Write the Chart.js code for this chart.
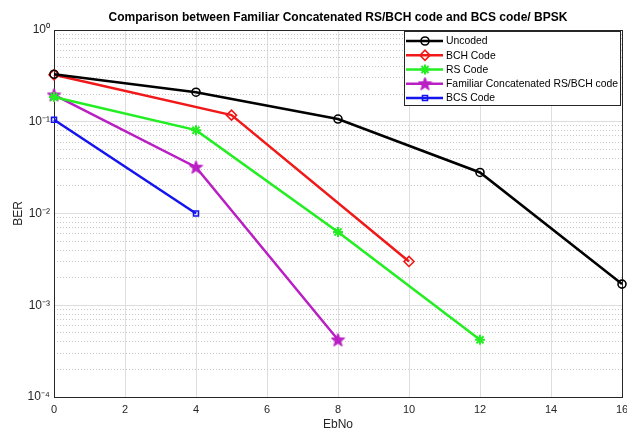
<!DOCTYPE html>
<html>
<head>
<meta charset="utf-8">
<script src="https://cdn.jsdelivr.net/npm/chart.js@4.4.1/dist/chart.umd.min.js"></script>
<style>
html,body{margin:0;padding:0;background:#fff;overflow:hidden;}
#wrap{width:627px;height:434px;position:relative;}
canvas{display:block;}
</style>
</head>
<body>
<div id="wrap"><canvas id="c" width="627" height="434"></canvas></div>
<script>
// ---- data ----
const seriesNames = ["Uncoded", "BCH Code", "RS Code", "Familiar Concatenated RS/BCH code", "BCS Code"];
const uncodedX = [0, 4, 8, 12, 16];
const uncodedY = [0.33, 0.21, 0.107, 0.028, 0.0017];
const bchX = [0, 5, 10];
const bchY = [0.325, 0.118, 0.003];
const rsX = [0, 4, 8, 12];
const rsY = [0.186, 0.081, 0.0063, 0.00042];
const famX = [0, 4, 8];
const famY = [0.196, 0.032, 0.00042];
const bcsX = [0, 4];
const bcsY = [0.105, 0.01];
const xTicks = [0, 2, 4, 6, 8, 10, 12, 14, 16];
const yMajorTicks = [1e-4, 1e-3, 1e-2, 1e-1, 1];
const yTickLabels = ["10\u207B\u2074", "10\u207B\u00B3", "10\u207B\u00B2", "10\u207B\u00B9", "10\u2070"];

function pts(xs, ys){ return xs.map((x,i)=>({x:x, y:ys[i]})); }

// pentagram marker
function makeStar(size, color){
  const cv = document.createElement('canvas');
  cv.width = size; cv.height = size;
  const g = cv.getContext('2d');
  const cx = size/2, cy = size/2 + 0.5, R = size/2 - 0.5, r = R*0.42;
  g.beginPath();
  for (let i=0;i<10;i++){
    const a = -Math.PI/2 + i*Math.PI/5;
    const rr = (i%2===0)?R:r;
    const px = cx + rr*Math.cos(a), py = cy + rr*Math.sin(a);
    if(i===0) g.moveTo(px,py); else g.lineTo(px,py);
  }
  g.closePath();
  g.fillStyle = color; g.fill();
  g.strokeStyle = color; g.lineWidth = 1; g.stroke();
  return cv;
}
const magenta = '#b91fc3';
const starImg = makeStar(15, magenta);

const minorTicks = [];
for (let d=-4; d<0; d++) for (let k=2;k<=9;k++) minorTicks.push(k*Math.pow(10,d));

const datasets = [
  {label: seriesNames[0], data: pts(uncodedX, uncodedY), borderColor:'#000000', backgroundColor:'rgba(0,0,0,0)', pointStyle:'circle', pointRadius:4, pointBorderWidth:1.6, borderWidth:2.5},
  {label: seriesNames[1], data: pts(bchX, bchY), borderColor:'#f01818', backgroundColor:'rgba(0,0,0,0)', pointStyle:'rectRot', pointRadius:5, pointBorderWidth:1.6, borderWidth:2.5},
  {label: seriesNames[2], data: pts(rsX, rsY), borderColor:'#22ee22', backgroundColor:'#22ee22', pointStyle:'star', pointRadius:5, pointBorderWidth:2, borderWidth:2.5},
  {label: seriesNames[3], data: pts(famX, famY), borderColor:magenta, backgroundColor:magenta, pointStyle:starImg, pointRadius:7, pointBorderWidth:1, borderWidth:2.5},
  {label: seriesNames[4], data: pts(bcsX, bcsY), borderColor:'#1414ee', backgroundColor:'rgba(0,0,0,0)', pointStyle:'rect', pointRadius:3.5, pointBorderWidth:1.6, borderWidth:2.5}
];
datasets.forEach(d=>{ d.pointHoverRadius = d.pointRadius; d.pointBorderColor = d.borderColor; d.pointBackgroundColor = d.backgroundColor; d.tension = 0; d.clip = false; });

const frameLegend = {
  id: 'frameLegend',
  beforeDatasetsDraw(chart){
    const ctx = chart.ctx, a = chart.chartArea;
    ctx.save();
    ctx.strokeStyle = '#262626'; ctx.lineWidth = 1;
    ctx.strokeRect(Math.round(a.left)+0.5, Math.round(a.top)+0.5, Math.round(a.right-a.left), Math.round(a.bottom-a.top));
    ctx.restore();
  },
  afterDatasetsDraw(chart){
    const ctx = chart.ctx, a = chart.chartArea;
    ctx.save();
    // legend box
    const bx = a.right - 218, by = a.top + 1, bw = 216, bh = 74;
    ctx.fillStyle = '#ffffff';
    ctx.fillRect(bx, by, bw, bh);
    ctx.strokeStyle = '#262626'; ctx.lineWidth = 1;
    ctx.strokeRect(Math.round(bx)+0.5, Math.round(by)+0.5, bw, bh);
    ctx.font = '10.4px "Liberation Sans", Arial, sans-serif';
    ctx.textBaseline = 'middle';
    chart.data.datasets.forEach((ds, i) => {
      const y = by + 10 + i*14.25;
      ctx.strokeStyle = ds.borderColor; ctx.lineWidth = 2.5;
      ctx.beginPath(); ctx.moveTo(bx+2, y); ctx.lineTo(bx+39, y); ctx.stroke();
      ctx.fillStyle = ds.backgroundColor; ctx.strokeStyle = ds.borderColor; ctx.lineWidth = ds.pointBorderWidth;
      Chart.helpers.drawPoint(ctx, {pointStyle: ds.pointStyle, radius: ds.pointRadius, rotation: 0, borderWidth: ds.pointBorderWidth}, bx+21, y);
      ctx.fillStyle = '#000000';
      ctx.fillText(ds.label, bx+42, y+0.5);
    });
    ctx.restore();
  }
};

const zeroPad = function(){ return {left:0, top:0, right:0, bottom:0}; };

new Chart(document.getElementById('c'), {
  type: 'line',
  data: { datasets: datasets },
  plugins: [frameLegend],
  options: {
    responsive: false,
    animation: false,
    devicePixelRatio: 1,
    layout: { autoPadding: false, padding: {left:0, right:5, top:0, bottom:0} },
    plugins: {
      legend: { display: false },
      tooltip: { enabled: false },
      title: {
        display: true,
        fullSize: false,
        text: 'Comparison between Familiar Concatenated RS/BCH code and BCS code/ BPSK',
        color: '#000000',
        font: { family: '"Liberation Sans", Arial, sans-serif', size: 12, weight: 'bold' },
        padding: { top: 10, bottom: 5.6 }
      }
    },
    scales: {
      x: {
        type: 'linear', min: 0, max: 16,
        afterBuildTicks: s => { s.ticks = xTicks.map(v=>({value:v})); },
        afterFit: s => { s.height = 37; s.paddingLeft = 0; s.paddingRight = 0; s.getPadding = zeroPad; },
        grid: { color: '#dedede', lineWidth: 1, drawTicks: false },
        border: { color: '#262626', width: 1 },
        ticks: { color: '#262626', padding: 6, maxRotation: 0, font: { family: '"Liberation Sans", Arial, sans-serif', size: 11 } },
        title: { display: true, text: 'EbNo', color: '#262626', padding: { top: 0, bottom: 2 }, font: { family: '"Liberation Sans", Arial, sans-serif', size: 12 } }
      },
      y: {
        type: 'logarithmic', min: 1e-4, max: 1, position: 'left',
        afterBuildTicks: s => { s.ticks = yMajorTicks.map(v=>({value:v})); },
        afterFit: s => { s.width = 54; s.paddingTop = 0; s.paddingBottom = 0; s.getPadding = zeroPad; },
        grid: { color: '#dedede', lineWidth: 1, drawTicks: false },
        border: { color: '#262626', width: 1 },
        ticks: {
          color: '#262626', padding: 4,
          font: { family: '"Liberation Sans", Arial, sans-serif', size: 12 },
          callback: (v) => { const i = yMajorTicks.findIndex(t => Math.abs(Math.log10(t) - Math.log10(v)) < 1e-6); return i >= 0 ? yTickLabels[i] : ''; }
        },
        title: { display: true, text: 'BER', color: '#262626', padding: { top: 11, bottom: 0 }, font: { family: '"Liberation Sans", Arial, sans-serif', size: 12 } }
      },
      yMinor: {
        type: 'logarithmic', min: 1e-4, max: 1, position: 'left',
        afterBuildTicks: s => { s.ticks = minorTicks.map(v=>({value:v})); },
        afterFit: s => { s.width = 0; s.paddingTop = 0; s.paddingBottom = 0; s.getPadding = zeroPad; },
        grid: { color: '#c8c8c8', lineWidth: 1, drawTicks: false },
        border: { display: false, dash: [1, 2] },
        ticks: { display: false }
      }
    }
  }
});
</script>
</body>
</html>
